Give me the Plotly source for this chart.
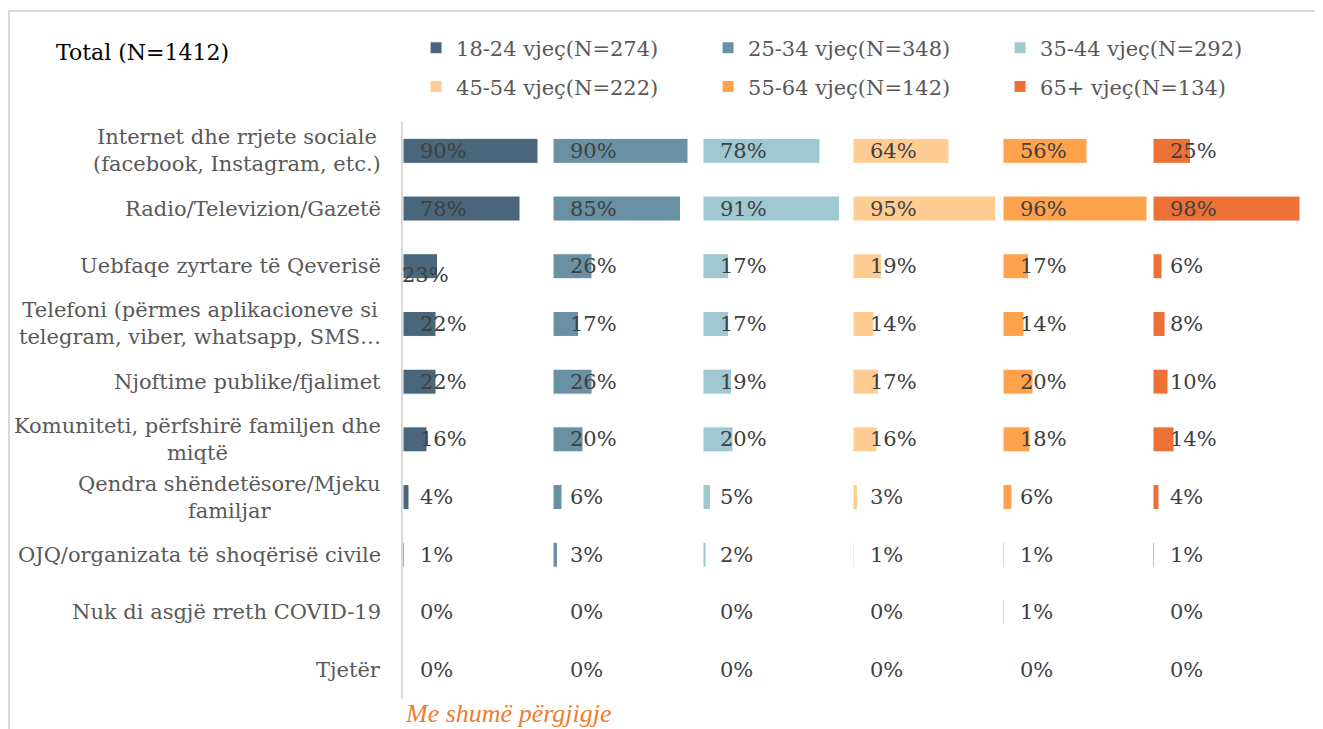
import plotly.graph_objects as go
from plotly.subplots import make_subplots

categories = [
    "Internet dhe rrjete sociale<br>(facebook, Instagram, etc.)",
    "Radio/Televizion/Gazetë",
    "Uebfaqe zyrtare të Qeverisë",
    "Telefoni (përmes aplikacioneve si<br>telegram, viber, whatsapp, SMS…",
    "Njoftime publike/fjalimet",
    "Komuniteti, përfshirë familjen dhe<br>miqtë",
    "Qendra shëndetësore/Mjeku<br>familjar",
    "OJQ/organizata të shoqërisë civile",
    "Nuk di asgjë rreth COVID-19",
    "Tjetër",
]

groups = ["18-24 vjeç(N=274)", "25-34 vjeç(N=348)", "35-44 vjeç(N=292)",
          "45-54 vjeç(N=222)", "55-64 vjeç(N=142)", "65+ vjeç(N=134)"]

v_18_24 = [90, 78, 23, 22, 22, 16, 4, 1, 0, 0]
v_25_34 = [90, 85, 26, 17, 26, 20, 6, 3, 0, 0]
v_35_44 = [78, 91, 17, 17, 19, 20, 5, 2, 0, 0]
v_45_54 = [64, 95, 19, 14, 17, 16, 3, 1, 0, 0]
v_55_64 = [56, 96, 17, 14, 20, 18, 6, 1, 1, 0]
v_65 = [25, 98, 6, 8, 10, 14, 4, 1, 0, 0]

values = [v_18_24, v_25_34, v_35_44, v_45_54, v_55_64, v_65]
colors = ["#4A667A", "#6990A3", "#9FC8D2", "#FFCC94", "#FFA24C", "#ED7037"]

serif = "DejaVu Serif"
fig = make_subplots(rows=1, cols=6, shared_yaxes=True, horizontal_spacing=0)

for i in range(6):
    fig.add_trace(go.Bar(
        y=categories, x=values[i], orientation="h", name=groups[i],
        marker=dict(color=colors[i], line=dict(color="white", width=1)),
        legend="legend" if i < 3 else "legend2",
    ), row=1, col=i + 1)
    xr = "x" if i == 0 else f"x{i+1}"
    for c, v in zip(categories, values[i]):
        # one label in the original was dragged out of place
        dx, dy = (-18, -9) if (i == 0 and c.startswith("Uebfaqe")) else (0, 0)
        fig.add_annotation(x=0, y=c, xref=xr, yref="y", text=f"{v}%",
                           showarrow=False, xanchor="left", xshift=15 + dx, yshift=dy,
                           font=dict(family=serif, size=21, color="#404040"))

fig.update_xaxes(range=[0, 100], visible=False, fixedrange=True)
fig.update_yaxes(autorange="reversed", showticklabels=False, ticks="", showgrid=False)
fig.update_yaxes(showline=True, linecolor="#D9D9D9", linewidth=2, row=1, col=1)

for c in categories:
    fig.add_annotation(x=0, y=c, xref="paper", yref="y", text=c, showarrow=False,
                       xanchor="right", align="center", xshift=-20,
                       font=dict(family=serif, size=21, color="#595959"))

fig.add_annotation(x=-0.388, y=1.121, xref="paper", yref="paper", text="Total (N=1412)",
                   showarrow=False, xanchor="left", yanchor="middle",
                   font=dict(family=serif, size=22, color="black"))
fig.add_annotation(x=0.0, y=-0.025, xref="paper", yref="paper", text="<i>Me shumë përgjigje</i>",
                   showarrow=False, xanchor="left", yanchor="middle",
                   font=dict(family="Liberation Serif", size=26, color="#ED7D31", style="italic"))

fig.add_shape(type="rect", xref="paper", yref="paper", x0=-0.4378, x1=1.0178, y0=-0.1, y1=1.1924,
              line=dict(color="#D9D9D9", width=2), fillcolor="rgba(0,0,0,0)", layer="below")

leg = dict(orientation="h", xanchor="left", yanchor="middle", entrywidth=247,
           font=dict(family=serif, size=21, color="#595959"), bgcolor="rgba(0,0,0,0)")
fig.update_layout(
    width=1315, height=721,
    margin=dict(l=395, r=20, t=114, b=30, autoexpand=False),
    plot_bgcolor="white", paper_bgcolor="white",
    bargap=0.567,
    showlegend=True,
    legend=dict(leg, x=0.0145, y=1.128),
    legend2=dict(leg, x=0.0145, y=1.061),
)

fig.write_html("out.html")
